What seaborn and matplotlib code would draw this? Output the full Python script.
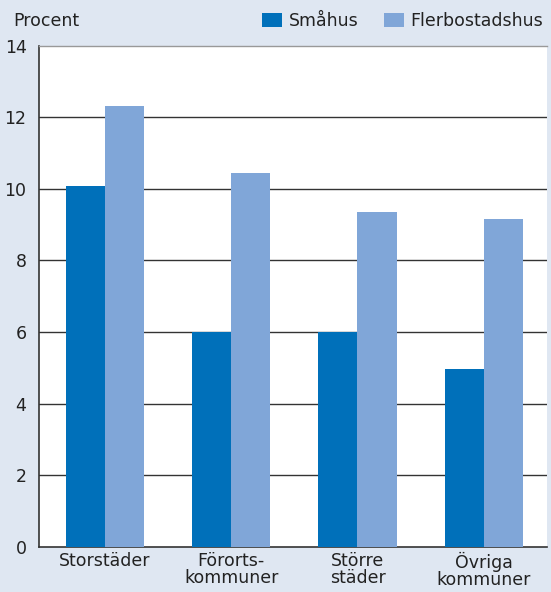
import matplotlib
matplotlib.use("Agg")
import matplotlib.pyplot as plt
import seaborn as sns
import pandas as pd
from matplotlib.patches import Patch

regions = ["Storstäder", "Förorts-\nkommuner", "Större\nstäder", "Övriga\nkommuner"]
smahus = [10.07, 5.99, 6.01, 4.98]
flerbostadshus = [12.31, 10.43, 9.34, 9.17]
series_names = ["Småhus", "Flerbostadshus"]
yticks = [0, 2, 4, 6, 8, 10, 12, 14]

BG = "#dfe7f2"
DARK = "#0070ba"
LIGHT = "#80a6d8"
FS = 12.5

df = pd.DataFrame({
    "region": regions * 2,
    "value": smahus + flerbostadshus,
    "typ": [series_names[0]] * 4 + [series_names[1]] * 4,
})

sns.set_theme(style="white")
plt.rcParams["font.family"] = ["DejaVu Sans"]

fig = plt.figure(figsize=(5.51, 5.92), dpi=100, facecolor=BG)
ax = fig.add_axes([0.0708, 0.0760, 0.922, 0.8470])
ax.set_facecolor("white")

sns.barplot(data=df, x="region", y="value", hue="typ", order=regions,
            hue_order=series_names, palette=[DARK, LIGHT], width=0.62,
            saturation=1, linewidth=0, legend=False, ax=ax, zorder=3)

ax.set_ylim(0, 14)
ax.set_xlim(-0.52, 3.5)
ax.set_yticks(yticks)
ax.set_yticklabels([str(t) for t in yticks])
for t in yticks[1:-1]:
    ax.axhline(t, color="#333333", lw=1.0, zorder=1)

ax.set_xlabel("")
ax.set_ylabel("")
ax.tick_params(axis="both", length=0, labelsize=FS, colors="#222222")
ax.tick_params(axis="y", pad=9)
ax.tick_params(axis="x", pad=3.5)
for lab in ax.get_xticklabels():
    lab.set_linespacing(0.94)

for side in ["left", "bottom"]:
    ax.spines[side].set_color("#333333")
    ax.spines[side].set_linewidth(1.2)
ax.spines["top"].set_color("#999999")
ax.spines["top"].set_linewidth(1.0)
ax.spines["right"].set_visible(False)

fig.text(13 / 551, 1 - 21 / 592, "Procent", fontsize=FS, color="#222222",
         va="center", ha="left")

handles = [Patch(facecolor=DARK, edgecolor="none"),
           Patch(facecolor=LIGHT, edgecolor="none")]
fig.legend(handles, series_names, loc="center right",
           bbox_to_anchor=(1 - 8 / 551, 1 - 21 / 592), ncol=2, frameon=False,
           fontsize=FS, handlelength=1.15, handleheight=0.9, handletextpad=0.35,
           columnspacing=1.5, labelcolor="#222222", borderpad=0, borderaxespad=0)

fig.savefig("out.png", dpi=100, facecolor=BG)
